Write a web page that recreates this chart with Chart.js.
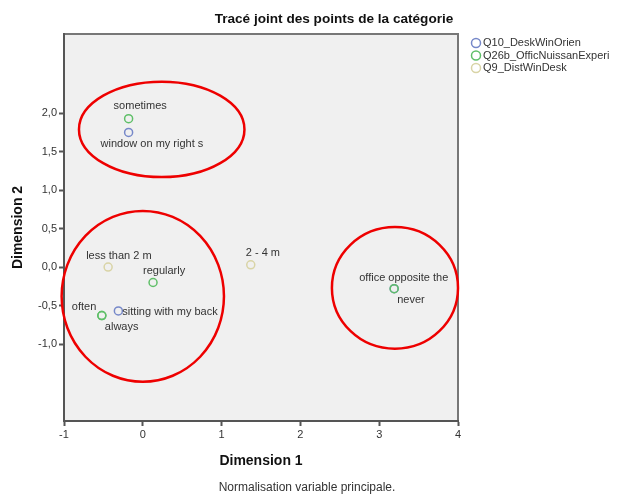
<!DOCTYPE html>
<html>
<head>
<meta charset="utf-8">
<script src="https://cdn.jsdelivr.net/npm/chart.js@4.4.1/dist/chart.umd.min.js"></script>
<style>
  html, body { margin: 0; padding: 0; background: #fff; }
  #wrap { width: 617px; height: 497px; }
</style>
</head>
<body>
<div id="wrap"><canvas id="myChart"></canvas></div>
<script>
// tick labels
const xTicks = [-1, 0, 1, 2, 3, 4];
const yTicks = [-1, -0.5, 0, 0.5, 1, 1.5, 2];

// series
const seriesNames = ['Q10_DeskWinOrien', 'Q26b_OfficNuissanExperi', 'Q9_DistWinDesk'];

const q10Cats = ['window on my right s', 'sitting with my back', 'office opposite the'];
const q10X = [-0.18, -0.31, 3.19];
const q10Y = [1.75, -0.57, -0.28];

const q26Cats = ['sometimes', 'regularly', 'often', 'always', 'never'];
const q26X = [-0.18, 0.13, -0.52, -0.52, 3.19];
const q26Y = [1.93, -0.20, -0.63, -0.63, -0.28];

const q9Cats = ['less than 2 m', '2 - 4 m'];
const q9X = [-0.44, 1.37];
const q9Y = [0.00, 0.03];

// red circles drawn over the plot (centre x, centre y, radius x, radius y in data units)
const ringCx = [0.24, 0.0, 3.2];
const ringCy = [1.79, -0.38, -0.27];
const ringRx = [1.05, 1.03, 0.80];
const ringRy = [0.62, 1.11, 0.79];

// label offsets in pixels from the point (left edge of text, middle)
const q10Off = [[-28, 11], [4, 1], [-35, -11]];
const q26Off = [[-15, -13], [-10, -12], [-30, -9], [3, 11], [3, 11]];
const q9Off = [[-22, -11], [-5, -12]];

const colors = ['#7688c9', '#5fbf68', '#d9d4a6'];
const FONT = '"Liberation Sans", Arial, sans-serif';

function pts(xs, ys) {
    return xs.map((x, i) => ({ x: x, y: ys[i] }));
}

const plotDecor = {
    id: 'plotDecor',
    beforeDraw(chart) {
        const { ctx, chartArea: a } = chart;
        ctx.save();
        ctx.fillStyle = '#f0f0f0';
        ctx.fillRect(a.left, a.top, a.right - a.left, a.bottom - a.top);
        ctx.strokeStyle = '#777';
        ctx.lineWidth = 2;
        ctx.beginPath();
        ctx.moveTo(a.left, a.top);
        ctx.lineTo(a.right, a.top);
        ctx.lineTo(a.right, a.bottom);
        ctx.stroke();
        ctx.restore();
    },
    afterDatasetsDraw(chart) {
        const { ctx } = chart;
        const xs = chart.scales.x, ys = chart.scales.y;
        ctx.save();
        // point labels
        ctx.font = '11px ' + FONT;
        ctx.fillStyle = '#333';
        ctx.textAlign = 'left';
        ctx.textBaseline = 'middle';
        chart.data.datasets.forEach((ds, di) => {
            const meta = chart.getDatasetMeta(di);
            meta.data.forEach((el, i) => {
                const o = ds.labelOffsets[i];
                ctx.fillText(ds.cats[i], el.x + o[0], el.y + o[1]);
            });
        });
        // red rings
        ctx.strokeStyle = '#ee0000';
        ctx.lineWidth = 2.5;
        ringCx.forEach((cx, i) => {
            const px = xs.getPixelForValue(cx);
            const py = ys.getPixelForValue(ringCy[i]);
            const rx = Math.abs(xs.getPixelForValue(cx + ringRx[i]) - px);
            const ry = Math.abs(ys.getPixelForValue(ringCy[i] + ringRy[i]) - py);
            ctx.beginPath();
            ctx.ellipse(px, py, rx, ry, 0, 0, Math.PI * 2);
            ctx.stroke();
        });
        ctx.restore();
    },
    afterDraw(chart) {
        const { ctx, chartArea: a } = chart;
        ctx.save();
        ctx.fillStyle = '#111';
        ctx.textBaseline = 'middle';
        ctx.textAlign = 'center';
        ctx.font = 'bold 13.6px ' + FONT;
        ctx.fillText('Tracé joint des points de la catégorie', 334, 19);
        ctx.font = 'bold 14px ' + FONT;
        ctx.fillText('Dimension 1', (a.left + a.right) / 2, 461);
        ctx.save();
        ctx.translate(18, (a.top + a.bottom) / 2);
        ctx.rotate(-Math.PI / 2);
        ctx.fillText('Dimension 2', 0, 0);
        ctx.restore();
        ctx.font = '12px ' + FONT;
        ctx.fillStyle = '#333';
        ctx.fillText('Normalisation variable principale.', 307, 488);
        // legend
        ctx.font = '11px ' + FONT;
        ctx.textAlign = 'left';
        ctx.lineWidth = 1.5;
        seriesNames.forEach((name, i) => {
            const y = 43 + i * 12.5;
            ctx.strokeStyle = colors[i];
            ctx.beginPath();
            ctx.arc(476, y, 4.5, 0, Math.PI * 2);
            ctx.stroke();
            ctx.fillStyle = '#333';
            ctx.fillText(name, 483, y);
        });
        ctx.restore();
    }
};

const ctx = document.getElementById('myChart').getContext('2d');
const myChart = new Chart(ctx, {
    type: 'scatter',
    data: {
        datasets: [{
            label: seriesNames[0],
            cats: q10Cats,
            labelOffsets: q10Off,
            data: pts(q10X, q10Y),
            borderColor: colors[0],
            backgroundColor: 'rgba(0,0,0,0)',
            pointRadius: 4,
            borderWidth: 1.5,
            order: 2
        }, {
            label: seriesNames[1],
            cats: q26Cats,
            labelOffsets: q26Off,
            data: pts(q26X, q26Y),
            borderColor: colors[1],
            backgroundColor: 'rgba(0,0,0,0)',
            pointRadius: 4,
            borderWidth: 1.5,
            order: 0
        }, {
            label: seriesNames[2],
            cats: q9Cats,
            labelOffsets: q9Off,
            data: pts(q9X, q9Y),
            borderColor: colors[2],
            backgroundColor: 'rgba(0,0,0,0)',
            pointRadius: 4,
            borderWidth: 1.5,
            order: 1
        }]
    },
    options: {
        responsive: true,
        maintainAspectRatio: false,
        animation: false,
        layout: { padding: { left: 0, top: 34, right: 159, bottom: 0 } },
        plugins: {
            legend: { display: false },
            tooltip: { enabled: false }
        },
        scales: {
            x: {
                type: 'linear',
                min: -1,
                max: 4,
                afterFit: s => { s.height = 76; },
                afterBuildTicks: s => { s.ticks = xTicks.map(v => ({ value: v })); },
                ticks: {
                    color: '#333',
                    font: { size: 11, family: FONT },
                    padding: 2,
                    callback: v => String(v)
                },
                grid: { drawOnChartArea: false, drawTicks: true, tickLength: 5, color: '#555', tickWidth: 2 },
                border: { color: '#555', width: 2 }
            },
            y: {
                type: 'linear',
                min: -2,
                max: 3.03,
                afterFit: s => { s.width = 64; },
                afterBuildTicks: s => { s.ticks = yTicks.map(v => ({ value: v })); },
                ticks: {
                    color: '#333',
                    font: { size: 11, family: FONT },
                    padding: 2,
                    callback: v => v.toFixed(1).replace('.', ',')
                },
                grid: { drawOnChartArea: false, drawTicks: true, tickLength: 5, color: '#555', tickWidth: 2 },
                border: { color: '#555', width: 2 }
            }
        }
    },
    plugins: [plotDecor]
});
</script>
</body>
</html>
